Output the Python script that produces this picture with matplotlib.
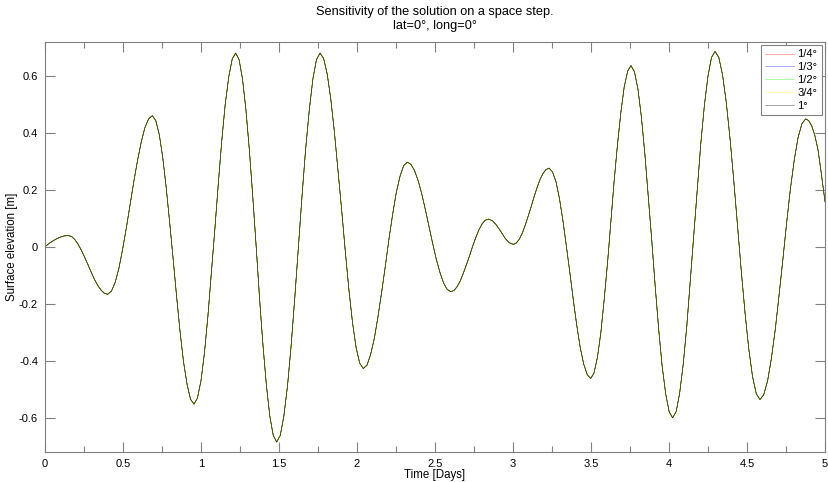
import matplotlib
matplotlib.use("Agg")
import matplotlib.pyplot as plt
from matplotlib.ticker import MultipleLocator, FuncFormatter

# Time axis [days] and surface elevation [m]
days = [
    0.000, 0.025, 0.050, 0.075, 0.100, 0.125, 0.149,
    0.170, 0.191, 0.212, 0.233, 0.254, 0.276, 0.297, 0.318, 0.339, 0.360, 0.381, 0.402,
    0.426, 0.450, 0.474, 0.497, 0.521, 0.545, 0.569, 0.593, 0.617, 0.640, 0.664, 0.688,
    0.710, 0.733, 0.755, 0.777, 0.799, 0.822, 0.844, 0.866, 0.888, 0.911, 0.933, 0.955,
    0.977, 1.000, 1.022, 1.044, 1.066, 1.089, 1.111, 1.133, 1.155, 1.178, 1.200, 1.222,
    1.244, 1.266, 1.288, 1.310, 1.332, 1.354, 1.375, 1.397, 1.419, 1.441, 1.463, 1.485,
    1.508, 1.531, 1.555, 1.578, 1.601, 1.624, 1.647, 1.670, 1.694, 1.717, 1.740, 1.763,
    1.786, 1.809, 1.832, 1.855, 1.878, 1.902, 1.925, 1.948, 1.971, 1.994, 2.017, 2.040,
    2.064, 2.087, 2.111, 2.134, 2.158, 2.182, 2.205, 2.229, 2.252, 2.276, 2.299, 2.323,
    2.346, 2.369, 2.393, 2.416, 2.439, 2.462, 2.485, 2.508, 2.532, 2.555, 2.578, 2.601,
    2.621, 2.641, 2.661, 2.681, 2.701, 2.722, 2.742, 2.762, 2.782, 2.802, 2.822, 2.842,
    2.869, 2.895, 2.922, 2.949, 2.975, 3.002,
    3.021, 3.040, 3.059, 3.078, 3.097, 3.117, 3.136, 3.155, 3.174, 3.193, 3.212, 3.231,
    3.253, 3.276, 3.298, 3.320, 3.342, 3.365, 3.387, 3.409, 3.431, 3.454, 3.476, 3.498,
    3.519, 3.541, 3.563, 3.584, 3.606, 3.627, 3.648, 3.670, 3.692, 3.713, 3.735, 3.756,
    3.778, 3.801, 3.823, 3.845, 3.867, 3.890, 3.912, 3.934, 3.956, 3.979, 4.001, 4.023,
    4.046, 4.068, 4.091, 4.114, 4.136, 4.159, 4.182, 4.204, 4.227, 4.250, 4.272, 4.295,
    4.319, 4.343, 4.367, 4.391, 4.415, 4.439, 4.463, 4.487, 4.511, 4.535, 4.559, 4.583,
    4.607, 4.632, 4.656, 4.681, 4.705, 4.730, 4.754, 4.778, 4.803, 4.827, 4.852, 4.876,
    4.895, 4.915, 4.935, 4.955, 4.975, 5.000,
]
elev = [
    0.000, 0.011, 0.020, 0.028, 0.034, 0.038, 0.039,
    0.036, 0.025, 0.009, -0.013, -0.037, -0.064, -0.091, -0.116, -0.137, -0.153, -0.164, -0.167,
    -0.156, -0.125, -0.075, -0.010, 0.065, 0.147, 0.228, 0.303, 0.368, 0.418, 0.449, 0.460,
    0.443, 0.392, 0.312, 0.207, 0.085, -0.047, -0.178, -0.300, -0.405, -0.485, -0.536, -0.553,
    -0.532, -0.470, -0.373, -0.245, -0.096, 0.064, 0.223, 0.372, 0.500, 0.597, 0.659, 0.680,
    0.657, 0.589, 0.480, 0.339, 0.174, -0.003, -0.180, -0.345, -0.486, -0.595, -0.663, -0.686,
    -0.663, -0.595, -0.486, -0.345, -0.180, -0.003, 0.174, 0.339, 0.480, 0.589, 0.657, 0.680,
    0.661, 0.606, 0.518, 0.403, 0.269, 0.126, -0.017, -0.151, -0.266, -0.354, -0.409, -0.428,
    -0.416, -0.379, -0.322, -0.247, -0.159, -0.066, 0.028, 0.116, 0.191, 0.248, 0.285, 0.297,
    0.289, 0.267, 0.230, 0.183, 0.128, 0.070, 0.011, -0.044, -0.091, -0.128, -0.150, -0.158,
    -0.154, -0.141, -0.121, -0.094, -0.064, -0.031, 0.003, 0.033, 0.060, 0.080, 0.093, 0.097,
    0.091, 0.075, 0.053, 0.030, 0.014, 0.008,
    0.013, 0.026, 0.047, 0.075, 0.107, 0.142, 0.177, 0.209, 0.237, 0.258, 0.271, 0.276,
    0.263, 0.227, 0.168, 0.091, 0.002, -0.094, -0.189, -0.278, -0.355, -0.414, -0.450, -0.463,
    -0.444, -0.389, -0.302, -0.188, -0.056, 0.087, 0.229, 0.361, 0.475, 0.562, 0.617, 0.636,
    0.615, 0.553, 0.455, 0.327, 0.178, 0.018, -0.143, -0.292, -0.420, -0.518, -0.580, -0.601,
    -0.579, -0.515, -0.413, -0.279, -0.124, 0.043, 0.209, 0.364, 0.498, 0.600, 0.664, 0.686,
    0.665, 0.604, 0.507, 0.380, 0.233, 0.075, -0.084, -0.231, -0.358, -0.455, -0.516, -0.537,
    -0.520, -0.471, -0.393, -0.291, -0.172, -0.044, 0.084, 0.203, 0.305, 0.383, 0.432, 0.449,
    0.443, 0.424, 0.390, 0.340, 0.262, 0.158,
]

# space steps: all runs overlap to plotting accuracy
step_labels = ['1/4°', '1/3°', '1/2°', '3/4°', '1°']
step_colors = ['#ff0000', '#0000ff', '#00ff00', '#ffff00', '#000000']

plt.rcParams.update({
    'font.family': ['Liberation Sans', 'DejaVu Sans'],
    'font.size': 8,
})

fig = plt.figure(figsize=(8.29, 4.82), dpi=100)
ax = fig.add_axes([0.0543, 0.0629, 0.9409, 0.8506])

for lab, col in zip(step_labels, step_colors):
    ax.plot(days, elev, color=col, linewidth=0.4, label=lab)

ax.set_xlim(0, 5)
ax.set_ylim(-0.72, 0.72)
ax.xaxis.set_major_locator(MultipleLocator(0.5))
ax.xaxis.set_minor_locator(MultipleLocator(0.25))
ax.yaxis.set_major_locator(MultipleLocator(0.2))

fmt = FuncFormatter(lambda v, p: ('%g' % round(v, 3)) if abs(v) > 1e-9 else '0')
ax.xaxis.set_major_formatter(fmt)
ax.yaxis.set_major_formatter(fmt)

axis_gray = '#808080'
for s in ax.spines.values():
    s.set_color(axis_gray)
    s.set_linewidth(0.8)
ax.tick_params(which='both', direction='in', top=True, right=True,
               color=axis_gray, labelcolor='#000000', labelsize=8)
ax.tick_params(which='major', length=7, width=0.8, pad=5)
ax.tick_params(which='minor', length=4, width=0.8)

ax.set_xlabel('Time [Days]', fontsize=8.3, labelpad=0)
ax.set_ylabel('Surface elevation [m]', fontsize=8.3, labelpad=1)
ax.set_title('Sensitivity of the solution on a space step.\nlat=0°, long=0°',
             fontsize=9.2, pad=9, linespacing=1.25)

leg = ax.legend(loc='upper right', fontsize=8, handlelength=2.6,
                handletextpad=0.3, labelspacing=0.25, borderpad=0.4,
                fancybox=False, framealpha=1, borderaxespad=0.3)
leg.get_frame().set_edgecolor(axis_gray)
leg.get_frame().set_linewidth(0.8)
for line in leg.get_lines():
    line.set_alpha(0.6)

fig.savefig('out.png', dpi=100)
